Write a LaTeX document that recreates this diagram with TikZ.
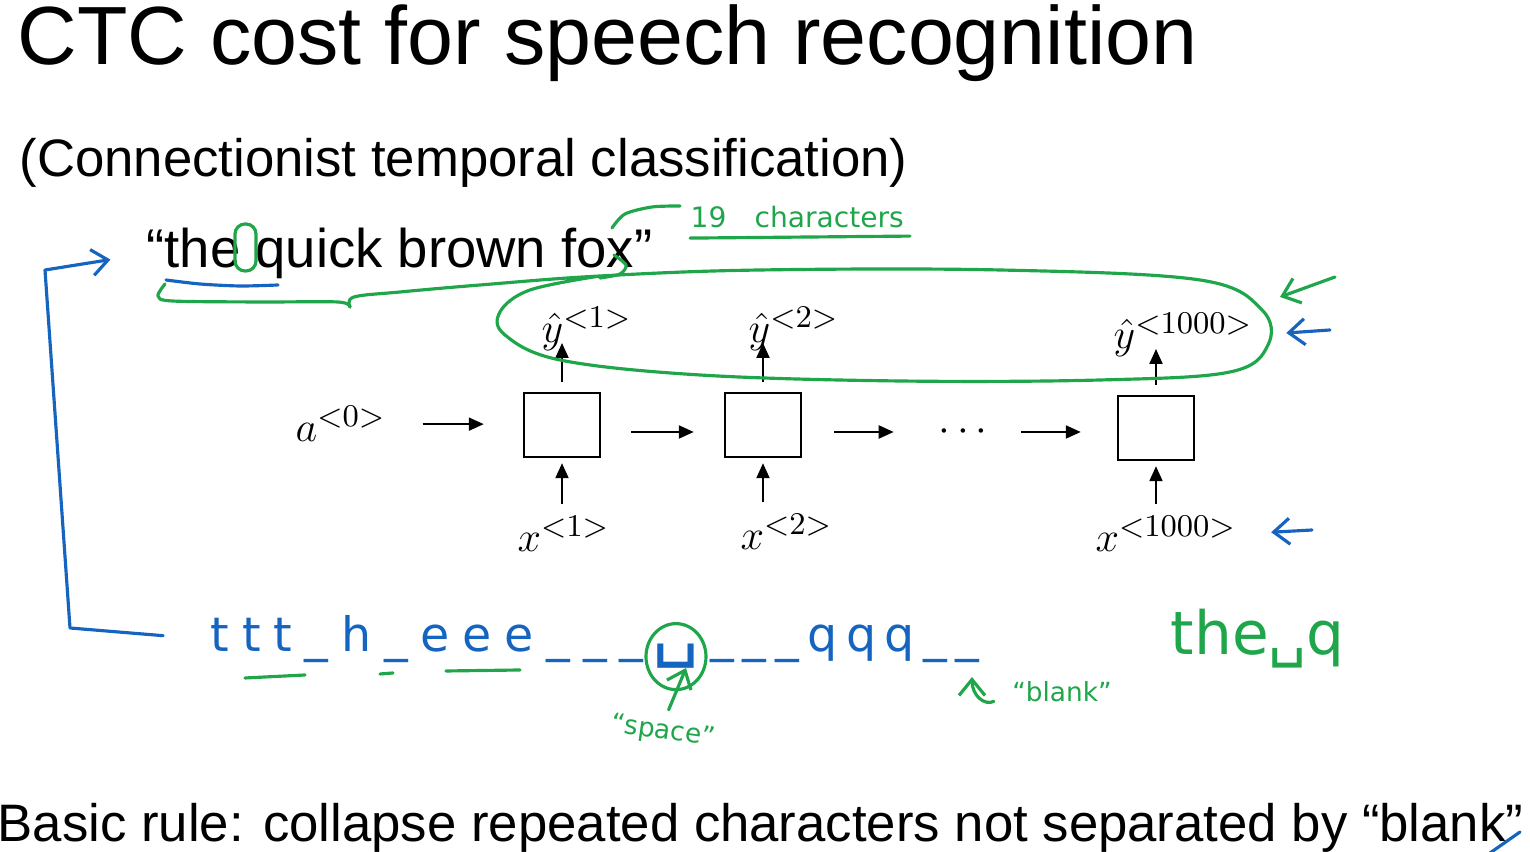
\documentclass[tikz,border=0pt]{standalone}
\usepackage[no-math]{fontspec}
\setmainfont{Liberation Sans}
\newfontfamily\handfont{DejaVu Sans}
\newfontfamily\handwide{DejaVu Sans}[LetterSpace=27]
\newfontfamily\handmid{DejaVu Sans}[LetterSpace=18]
\usepackage{tikz}
\usetikzlibrary{positioning, arrows.meta, calc}
\definecolor{inkgreen}{HTML}{1FA54A}
\definecolor{inkblue}{HTML}{1565C0}

\begin{document}
\begin{tikzpicture}[x=0.1mm, y=-0.1mm,
    cell/.style={draw, line width=0.7pt, minimum width=7.6mm, minimum height=6.4mm, inner sep=0pt},
    lbl/.style={inner sep=0pt, font=\fontsize{13}{15}\selectfont},
    txt/.style={anchor=base west, inner sep=0pt, font=\fontsize{15}{18}\selectfont},
    flow/.style={-{Triangle[length=1.5mm, width=1.3mm]}, line width=0.6pt},
    greenpen/.style={draw=inkgreen, line width=0.9pt, line cap=round, line join=round},
    bluepen/.style={draw=inkblue, line width=0.9pt, line cap=round, line join=round},
    barb/.style={-{Straight Barb[length=1.6mm, width=2.6mm]}},
    hand/.style={inner sep=0pt, font=\handfont}]

  \useasboundingbox (0,0) rectangle (1530,852);

  % slide text
  \node[anchor=base west, inner sep=0pt, font=\fontsize{23.5}{28}\selectfont] (title) at (17,65) {CTC cost for speech recognition};
  \node[txt] (subtitle) at (19,177) {(Connectionist temporal classification)};
  \node[txt, font=\fontsize{15.5}{18}\selectfont] (sentence) at (146,268) {“the quick brown fox”};
  \node[txt] (rule) at (-3,842) {Basic rule: collapse repeated characters not separated by “blank”};

  % rnn
  \node[cell] (cell1) at (562,425) {};
  \node[cell] (cell2) at (763,425) {};
  \node[cell] (cell3) at (1156,428) {};
  \node[lbl] (dots) at (963,432) {$\cdots$};

  \node[lbl, anchor=base west] (a0) at (295,442) {$a^{<0>}$};
  \node[lbl, anchor=base west] (x1) at (517,552) {$x^{<1>}$};
  \node[lbl, anchor=base west] (x2) at (740,550) {$x^{<2>}$};
  \node[lbl, anchor=base west] (x3) at (1095,552) {$x^{<1000>}$};
  \node[lbl, anchor=base west] (yh1) at (541,343) {$\hat{y}^{<1>}$};
  \node[lbl, anchor=base west] (yh2) at (748,343) {$\hat{y}^{<2>}$};
  \node[lbl, anchor=base west] (yh3) at (1113,349) {$\hat{y}^{<1000>}$};

  \draw[flow, shorten <=3.6mm, shorten >=3.9mm] (a0.east) -- (a0.east -| cell1.west);
  \draw[flow, shorten <=3mm, shorten >=3mm] (cell1.east |- dots) -- (cell2.west |- dots);
  \draw[flow, shorten <=3.2mm, shorten >=4.4mm] (cell2.east |- dots) -- (dots.west);
  \draw[flow, shorten <=3.3mm, shorten >=3.6mm] (dots.east) -- (cell3.west |- dots);

  \draw[flow, shorten <=1.2mm, shorten >=0.5mm] (x1.north -| cell1) -- (cell1.south);
  \draw[flow, shorten <=1.2mm, shorten >=0.5mm] (x2.north -| cell2) -- (cell2.south);
  \draw[flow, shorten <=1.2mm, shorten >=0.5mm] (x3.north -| cell3) -- (cell3.south);
  \draw[flow, shorten <=1mm] (cell1.north) -- (cell1.north |- yh1.base);
  \draw[flow, shorten <=1mm] (cell2.north) -- (cell2.north |- yh2.base);
  \draw[flow, shorten <=1mm] (cell3.north) -- (cell3.north |- yh3.base);

  % green notes
  \node[hand, anchor=base west, text=inkgreen, font={\handfont\fontsize{8}{10}\selectfont}] (count) at (690,228) {19\quad characters};
  \draw[greenpen] (count.south west) ++(0,9) -- ++(220,-2);
  \draw[greenpen] plot[smooth] coordinates {(612,228) (625,214) (652,207) (680,206)};
  \draw[greenpen, rounded corners=1mm] (235,224) rectangle (256,271);
  \draw[greenpen] plot[smooth, tension=0.5] coordinates {(165,284) (158,296) (172,301) (260,302) (338,302) (350,307)};
  \draw[greenpen] plot[smooth, tension=0.6] coordinates {(350,307) (354,297) (400,292) (480,285) (600,276) (760,270)
    (1000,270) (1200,280) (1262,310) (1268,345) (1230,372) (1100,380) (900,381) (700,375) (560,360) (505,335)
    (500,312) (530,290) (600,276)};
  \draw[greenpen] plot[smooth] coordinates {(614,255) (626,265) (620,274) (600,278)};

  % blue output path
  \node[hand, anchor=base west, text=inkblue, font={\handwide\fontsize{13.5}{16}\selectfont}] (seqa) at (210,652) {ttt\_h\_eee\_\_\_};
  \node[hand, anchor=base, text=inkblue, font={\handfont\fontsize{21}{24}\selectfont}] (spc) at (676,652) {␣};
  \node[hand, anchor=base west, text=inkblue, font={\handmid\fontsize{13.5}{16}\selectfont}] (seqb) at (710,652) {\_\_\_qqq\_\_};
  \draw[greenpen] (spc) ellipse [x radius=3mm, y radius=3.3mm];
  \draw[greenpen] (245,678) -- (305,675);
  \draw[greenpen] (380,674) -- (393,673);
  \draw[greenpen] (446,671) -- (520,670);

  \node[hand, anchor=base west, text=inkgreen, font={\handfont\fontsize{17}{19}\selectfont}] (result) at (1170,655) {the␣q};

  \node[hand, text=inkgreen, rotate=-8, font={\handfont\fontsize{7.5}{9}\selectfont}] (spacenote) at (663,732) {“space”};
  \coordinate (ringfoot) at (686,668);
  \draw[greenpen, barb, shorten <=1mm] (spacenote.north) -- (ringfoot);

  \node[hand, text=inkgreen, font={\handfont\fontsize{7.5}{9}\selectfont}] (blanknote) at (1062,692) {“blank”};
  \coordinate (blanktip) at (972,677);
  \draw[greenpen, barb, shorten <=2mm] (blanknote.west) .. controls (985,706) and (972,696) .. (blanktip);

  \coordinate (brkb) at (70,628);
  \coordinate (brkt) at (45,270);
  \draw[bluepen, barb, shorten <=4.7mm, shorten >=3.6mm] (seqa.west) -- (brkb) -- (brkt) -- (sentence.west);
  \draw[bluepen] plot[smooth] coordinates {(166,280) (200,284) (240,286) (278,285)};

  \coordinate (ynote) at (1330,330);
  \coordinate (xnote) at (1312,530);
  \coordinate (loopnote) at (1335,277);
  \coordinate (looptip) at (1280,297);
  \draw[bluepen, barb, shorten >=3.3mm] (ynote) -- (yh3.east);
  \draw[bluepen, barb, shorten >=3.4mm] (xnote) -- (x3.east);
  \draw[greenpen, barb] (loopnote) -- (looptip);
  \draw[bluepen] (1490,853) -- (1520,832);
\end{tikzpicture}
\end{document}
